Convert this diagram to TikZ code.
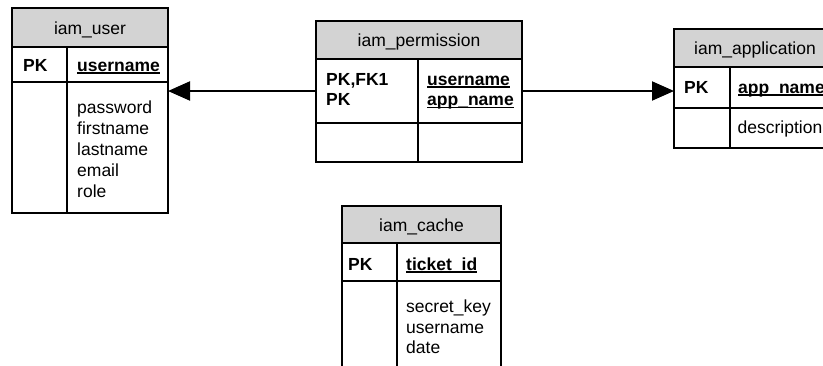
\documentclass[tikz,border=0pt]{standalone}
\usepackage{fontspec}
\setmainfont{Liberation Sans}
\usetikzlibrary{arrows.meta}
\definecolor{headgray}{RGB}{211,211,211}
% bold key column name with a fixed-depth underline
\newcommand{\keyfield}[1]{\setbox0\hbox{\bfseries #1}\rlap{\rule[-2.8pt]{\wd0}{1.4pt}}\box0}

\begin{document}
\begin{tikzpicture}[x=1pt,y=-1pt,
  every node/.style={font=\fontsize{17.5}{21}\selectfont},
  cell/.style={draw, line width=1.2pt, inner sep=0pt, outer sep=0pt, anchor=north west},
  headcell/.style={cell, fill=headgray},
  title/.style={anchor=base, inner sep=0pt},
  field/.style={anchor=base west, inner sep=0pt},
  keyfld/.style={field, font=\fontsize{17.5}{21}\selectfont\bfseries},
  divider/.style={line width=1.2pt},
  link/.style={line width=2pt, -{Triangle[length=22pt,width=19pt]}}]

\useasboundingbox (0,0) rectangle (823,365);
\clip (0,0) rectangle (823,365);

% ---------- iam_user ----------
\node[headcell, minimum width=156pt, minimum height=39pt] (userhead) at (12,8) {};
\node[cell, minimum width=156pt, minimum height=35pt] (userkey) at (12,47) {};
\node[cell, minimum width=156pt, minimum height=131pt] (userbody) at (12,82) {};
\draw[divider] (67,47) -- (67,213);
\node[title] (usertitle) at (90,34) {iam\_user};
\node[keyfld] (userpk) at (23,71) {PK};
\node[field] (userkeyname) at (77,71) {\keyfield{username}};
\node[field] (userf1) at (77,113) {password};
\node[field] (userf2) at (77,134) {firstname};
\node[field] (userf3) at (77,155) {lastname};
\node[field] (userf4) at (77,176) {email};
\node[field] (userf5) at (77,197) {role};

% ---------- iam_permission ----------
\node[headcell, minimum width=206pt, minimum height=38pt] (permhead) at (316,21) {};
\node[cell, minimum width=206pt, minimum height=64pt] (permkey) at (316,59) {};
\node[cell, minimum width=206pt, minimum height=39pt] (permbody) at (316,123) {};
\draw[divider] (418,59) -- (418,162);
\node[title] (permtitle) at (419,46) {iam\_permission};
\node[keyfld] (permpk1) at (326,85) {PK,FK1};
\node[keyfld] (permpk2) at (326,105.5) {PK};
\node[field] (permkey1) at (427,85) {\keyfield{username}};
\node[field] (permkey2) at (427,105.5) {\keyfield{app\_name}};

% ---------- iam_application ----------
\node[headcell, minimum width=162pt, minimum height=38pt] (apphead) at (674,29) {};
\node[cell, minimum width=162pt, minimum height=41pt] (appkey) at (674,67) {};
\node[cell, minimum width=162pt, minimum height=40pt] (appbody) at (674,108) {};
\draw[divider] (730,67) -- (730,148);
\node[title] (apptitle) at (755,54) {iam\_application};
\node[keyfld] (apppk) at (684,93) {PK};
\node[field] (appkeyname) at (738,93) {\keyfield{app\_name}};
\node[field] (appf1) at (737.5,133) {description};

% ---------- iam_cache ----------
\node[headcell, minimum width=159pt, minimum height=37pt] (cachehead) at (342,206) {};
\node[cell, minimum width=159pt, minimum height=38pt] (cachekey) at (342,243) {};
\node[cell, minimum width=159pt, minimum height=110pt] (cachebody) at (342,281) {};
\draw[divider] (397,243) -- (397,391);
\node[title] (cachetitle) at (421.5,231) {iam\_cache};
\node[keyfld] (cachepk) at (348,270) {PK};
\node[field] (cachekeyname) at (406,270) {\keyfield{ticket\_id}};
\node[field] (cachef1) at (406,312.5) {secret\_key};
\node[field] (cachef2) at (406,333) {username};
\node[field] (cachef3) at (406,353.5) {date};

% ---------- relationships ----------
\draw[link] (permkey.west) -- (userbody.east |- permkey.west);
\draw[link] (permkey.east) -- (appkey.west |- permkey.east);
\end{tikzpicture}
\end{document}
